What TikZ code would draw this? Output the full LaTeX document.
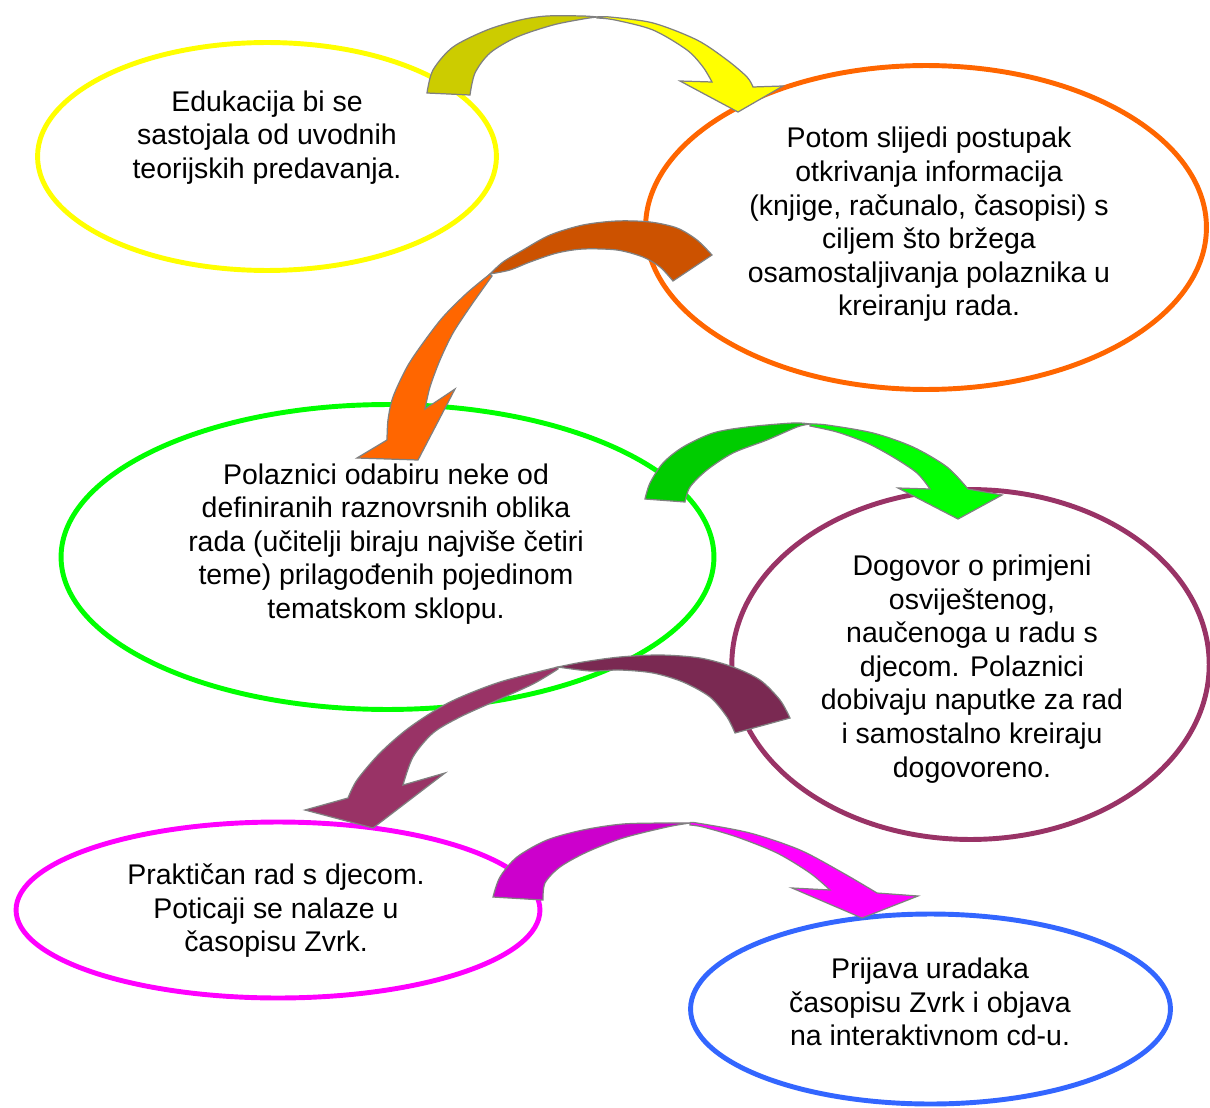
\documentclass[tikz,border=0pt]{standalone}
\usepackage{fontspec}
\setmainfont{Liberation Sans}
\usetikzlibrary{shapes.geometric}
\definecolor{cY}{HTML}{FFFF00}
\definecolor{cYd}{HTML}{CCCC00}
\definecolor{cO}{HTML}{FF6600}
\definecolor{cOd}{HTML}{CC5200}
\definecolor{cG}{HTML}{00FF00}
\definecolor{cGd}{HTML}{00CC00}
\definecolor{cP}{HTML}{993366}
\definecolor{cPd}{HTML}{7A2952}
\definecolor{cM}{HTML}{FF00FF}
\definecolor{cMd}{HTML}{CC00CC}
\definecolor{cB}{HTML}{3366FF}
\definecolor{cEdge}{HTML}{808080}
\begin{document}
\begin{tikzpicture}[x=0.02cm,y=-0.02cm,
  ell/.style={ellipse, line width=2.8pt, inner sep=0pt},
  txt/.style={align=center, font=\fontsize{16.2pt}{19.1pt}\selectfont, text=black, inner sep=0pt},
  arrowpart/.style={draw=cEdge, line width=0.7pt, line join=miter}]
\useasboundingbox (0,0) rectangle (1210,1108);
\fill[white] (0,0) rectangle (1210,1108);

% ellipses
\node[ell, draw=cY, minimum width=9.18cm, minimum height=4.56cm] (e1) at (267,156.5) {};
\node[ell, draw=cO, minimum width=11.22cm, minimum height=6.48cm] (e2) at (926,227.5) {};
\node[ell, draw=cG, minimum width=13.06cm, minimum height=6.1cm] (e3) at (387.5,557) {};
\node[ell, draw=cP, minimum width=9.55cm, minimum height=7.0cm] (e4) at (970.5,664.5) {};
\node[ell, draw=cM, minimum width=10.48cm, minimum height=3.52cm] (e5) at (278,910) {};
\node[ell, draw=cB, minimum width=9.6cm, minimum height=3.8cm] (e6) at (930.5,1009) {};

% texts
\node[txt] (t1) at (267,137.5) {Edukacija bi se\\sastojala od uvodnih\\teorijskih predavanja.};
\node[txt] (t2) at (929,224.5) {Potom slijedi postupak\\otkrivanja informacija\\(knjige, računalo, časopisi) s\\ciljem što bržega\\osamostaljivanja polaznika u\\kreiranju rada.};
\node[txt] (t3) at (386,544) {Polaznici odabiru neke od\\definiranih raznovrsnih oblika\\rada (učitelji biraju najviše četiri\\teme) prilagođenih pojedinom\\tematskom sklopu.};
\node[txt] (t4) at (972,669) {Dogovor o primjeni\\osviještenog,\\naučenoga u radu s\\djecom. Polaznici\\dobivaju naputke za rad\\i samostalno kreiraju\\dogovoreno.};
\node[txt] (t5) at (276,911) {Praktičan rad s djecom.\\Poticaji se nalaze u\\časopisu Zvrk.};
\node[txt] (t6) at (930,1002) {Prijava uradaka\\časopisu Zvrk i objava\\na interaktivnom cd-u.};

% arrow 1 (yellow)
\filldraw[arrowpart, fill=cYd] plot[smooth] coordinates {(427,93) (433,70) (453,47) (487,30) (520,20) (547,16) (583,16) (597,17)}
  -- plot[smooth] coordinates {(597,17) (583,19) (553,25) (517,37) (490,53) (475,73) (470,95)} -- cycle;
\filldraw[arrowpart, fill=cY] plot[smooth] coordinates {(597,17) (610,17) (653,23) (697,40) (727,60) (747,77) (753,87)}
  -- (783,86) -- (738,112) -- (680,81) -- (712,82)
  -- plot[smooth] coordinates {(712,82) (703,67) (687,50) (653,30) (615,20) (597,18)} -- cycle;

% arrow 2 (orange)
\filldraw[arrowpart, fill=cOd] plot[smooth] coordinates {(712,255) (697,240) (677,228) (650,222) (617,221) (583,225) (550,235) (523,250) (503,262) (490,274)}
  -- plot[smooth] coordinates {(490,274) (510,270) (530,262) (557,253) (583,249) (617,250) (643,257) (660,267) (673,281)} -- cycle;
\filldraw[arrowpart, fill=cO] plot[smooth] coordinates {(490,274) (467,293) (443,317) (423,343) (407,367) (393,397) (388,420) (387,440)}
  -- (357,458) -- (418,460) -- (455,389) -- (425,409)
  -- plot[smooth] coordinates {(425,409) (430,387) (440,360) (453,333) (470,307) (487,283) (492,276)} -- cycle;

% arrow 3 (green)
\filldraw[arrowpart, fill=cGd] plot[smooth] coordinates {(645,499) (650,483) (663,463) (683,447) (713,433) (747,427) (793,423) (810,424)}
  -- plot[smooth] coordinates {(810,424) (797,427) (767,440) (733,453) (707,470) (690,487) (685,502)} -- cycle;
\filldraw[arrowpart, fill=cG] plot[smooth] coordinates {(810,424) (827,425) (873,433) (913,447) (947,467) (968,489)}
  -- (1002,495) -- (958,519) -- (898,488) -- (930,489)
  -- plot[smooth] coordinates {(930,489) (917,473) (893,457) (867,443) (837,432) (810,426)} -- cycle;

% arrow 4 (purple)
\filldraw[arrowpart, fill=cPd] plot[smooth] coordinates {(790,718) (780,700) (760,680) (733,667) (700,658) (660,655) (620,657) (583,662) (558,667)}
  -- plot[smooth] coordinates {(558,667) (590,671) (620,670) (653,673) (683,682) (710,697) (727,717) (735,733)} -- cycle;
\filldraw[arrowpart, fill=cP] plot[smooth] coordinates {(558,667) (500,682) (450,702) (410,727) (380,753) (357,780) (348,798)}
  -- (305,810) -- (373,828) -- (445,773) -- (403,785)
  -- plot[smooth] coordinates {(403,785) (413,757) (433,733) (460,717) (493,702) (533,684) (558,669)} -- cycle;

% arrow 5 (magenta)
\filldraw[arrowpart, fill=cMd] plot[smooth] coordinates {(493,897) (500,877) (517,857) (547,840) (583,830) (623,824) (667,823) (690,823)}
  -- plot[smooth] coordinates {(690,823) (667,827) (623,838) (587,852) (560,867) (545,883) (543,900)} -- cycle;
\filldraw[arrowpart, fill=cM] plot[smooth] coordinates {(690,823) (697,823) (750,833) (800,850) (843,873) (877,893)}
  -- (918,896) -- (862,918) -- (792,888) -- (830,890)
  -- plot[smooth] coordinates {(830,890) (810,873) (777,853) (737,837) (703,827) (690,825)} -- cycle;
\end{tikzpicture}
\end{document}
